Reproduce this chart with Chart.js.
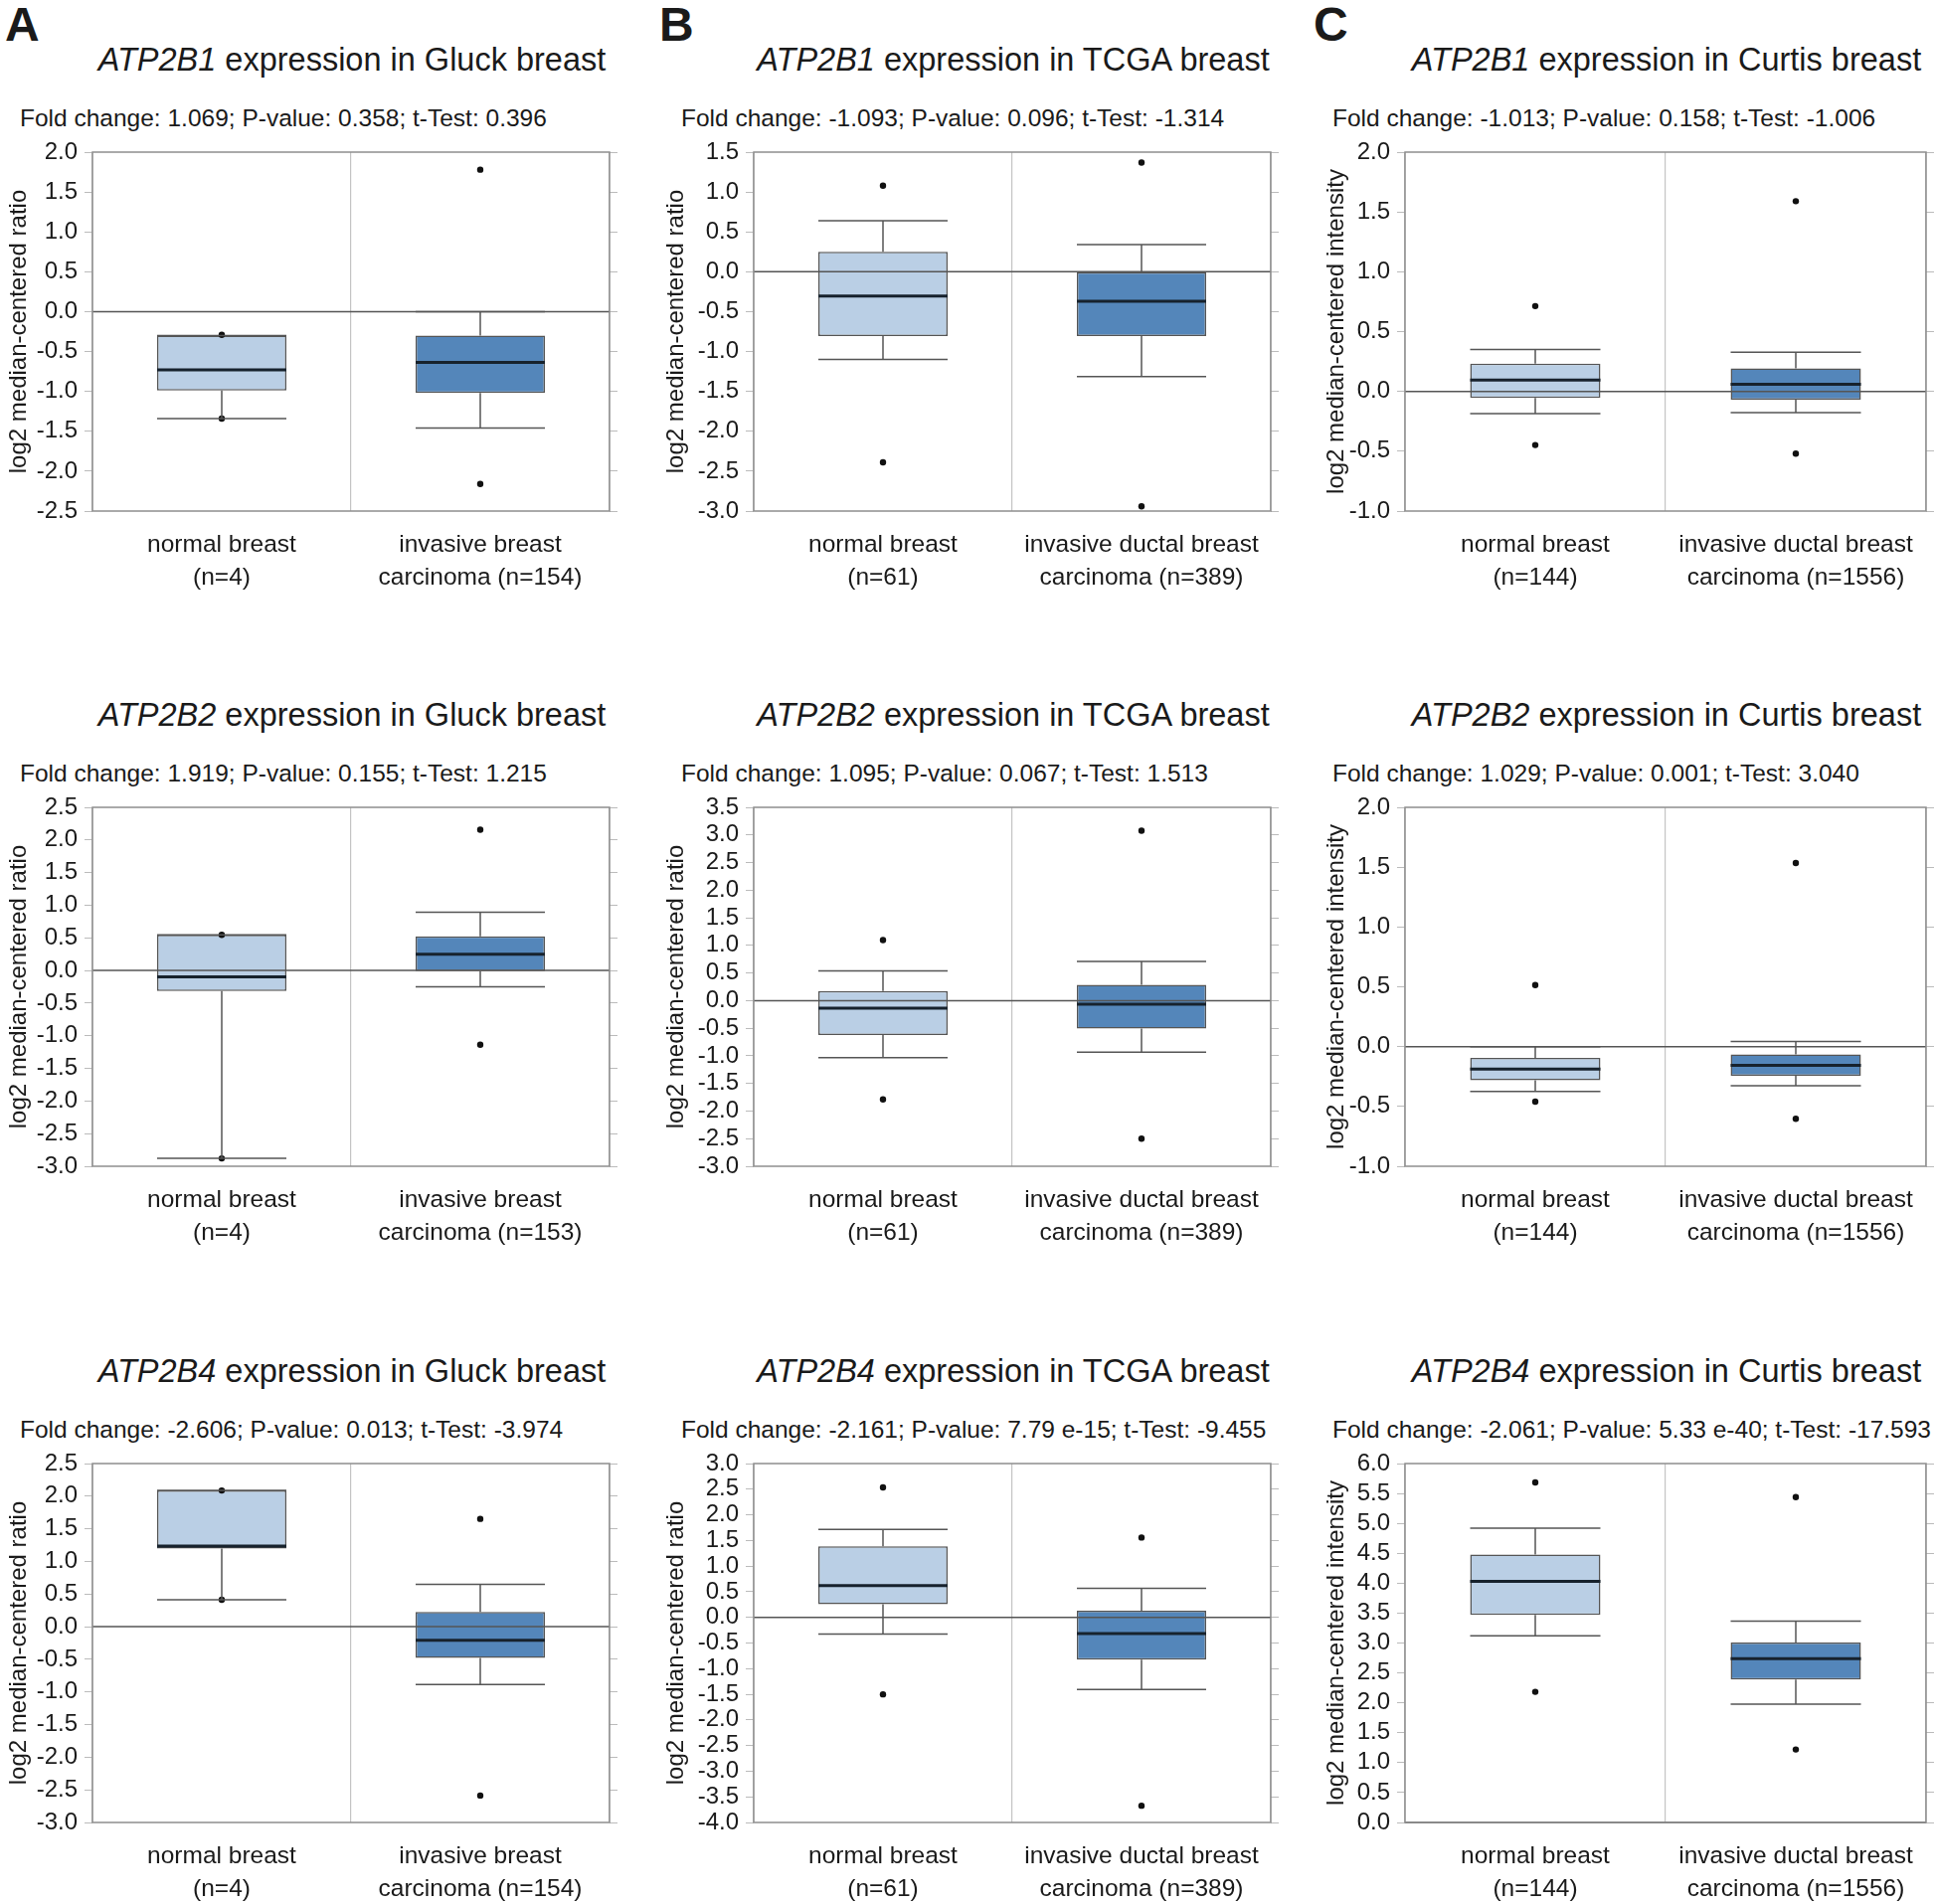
<!DOCTYPE html>
<html>
<head>
<meta charset="utf-8">
<script src="https://cdn.jsdelivr.net/npm/chart.js@4.4.0/dist/chart.umd.min.js"></script>
<style>
body { margin: 0; width: 1946px; height: 1915px; background: #fff; position: relative; overflow: hidden;
       font-family: "Liberation Sans", Arial, sans-serif; color: #1a1a1a; }
canvas { position: absolute; }
.letter { position: absolute; font-weight: bold; font-size: 48px; line-height: 1; }
.title { position: absolute; font-size: 32.5px; line-height: 1; white-space: nowrap; transform: translate(-50%, -50%); }
.fold { position: absolute; font-size: 24.5px; line-height: 1; white-space: nowrap; transform: translateY(-50%); }
</style>
</head>
<body>
<script>
// panels in reading order: A1 B1 C1 / A2 B2 C2 / A3 B3 C3
const genes = ['ATP2B1', 'ATP2B1', 'ATP2B1', 'ATP2B2', 'ATP2B2', 'ATP2B2', 'ATP2B4', 'ATP2B4', 'ATP2B4'];
const studies = ['Gluck', 'TCGA', 'Curtis'];
const foldChange = ['1.069', '-1.093', '-1.013', '1.919', '1.095', '1.029', '-2.606', '-2.161', '-2.061'];
const pValue = ['0.358', '0.096', '0.158', '0.155', '0.067', '0.001', '0.013', '7.79 e-15', '5.33 e-40'];
const tTest = ['0.396', '-1.314', '-1.006', '1.215', '1.513', '3.040', '-3.974', '-9.455', '-17.593'];
const normalN = [4, 61, 144, 4, 61, 144, 4, 61, 144];
const tumorN = [154, 389, 1556, 153, 389, 1556, 154, 389, 1556];
const tumorName = ['invasive breast', 'invasive ductal breast', 'invasive ductal breast'];
const yTitles = ['log2 median-centered ratio', 'log2 median-centered ratio', 'log2 median-centered intensity'];
const yMin = [-2.5, -3.0, -1.0, -3.0, -3.0, -1.0, -3.0, -4.0, 0.0];
const yMax = [2.0, 1.5, 2.0, 2.5, 3.5, 2.0, 2.5, 3.0, 6.0];

// [normal, tumor] for each panel
const maxPoint = [[-0.29, 1.78], [1.08, 1.37], [0.713, 1.59], [0.545, 2.157], [1.096, 3.077], [0.514, 1.535], [2.087, 1.652], [2.536, 1.557], [5.685, 5.44]];
const whiskerHigh = [[-0.30, 0.0], [0.64, 0.34], [0.35, 0.328], [0.545, 0.893], [0.538, 0.71], [0.0, 0.042], [2.087, 0.647], [1.716, 0.565], [4.92, 3.365]];
const q3 = [[-0.30, -0.30], [0.25, 0.0], [0.233, 0.192], [0.545, 0.523], [0.173, 0.288], [-0.095, -0.065], [2.087, 0.228], [1.385, 0.131], [4.48, 3.01]];
const median = [[-0.73, -0.635], [-0.305, -0.37], [0.095, 0.06], [-0.098, 0.25], [-0.135, -0.064], [-0.187, -0.157], [1.234, -0.207], [0.62, -0.317], [4.03, 2.74]];
const q1 = [[-0.99, -1.02], [-0.805, -0.805], [-0.054, -0.069], [-0.316, -0.01], [-0.622, -0.506], [-0.282, -0.244], [1.196, -0.478], [0.255, -0.827], [3.47, 2.39]];
const whiskerLow = [[-1.34, -1.46], [-1.10, -1.315], [-0.186, -0.177], [-2.88, -0.25], [-1.032, -0.936], [-0.374, -0.327], [0.413, -0.886], [-0.324, -1.406], [3.12, 1.976]];
const minPoint = [[-1.34, -2.16], [-2.39, -2.94], [-0.448, -0.52], [-2.88, -1.138], [-1.788, -2.5], [-0.46, -0.603], [0.413, -2.587], [-1.502, -3.673], [2.184, 1.22]];

// layout
const colLeft = [93, 758, 1413];
const colRight = [613, 1278, 1937];
const rowTop = [153, 812, 1472];
const plotH = 361;
const padTop = 24;
const axisW = 92;
const rightW = 9;
const titlePad = [3.6, 0, 8.6];
const letterLeft = [5, 663, 1321];
const FONT = '"Liberation Sans", Arial, sans-serif';

const boxExtras = {
    id: 'boxExtras',
    afterDatasetsDraw(chart, args, opts) {
        const p = opts.panel;
        const { ctx, chartArea: a } = chart;
        const y = chart.scales.y;
        ctx.save();

        // zero reference line
        const y0 = y.getPixelForValue(0);
        ctx.strokeStyle = '#555';
        ctx.lineWidth = 1.5;
        ctx.beginPath();
        ctx.moveTo(a.left, y0);
        ctx.lineTo(a.right, y0);
        ctx.stroke();

        // whiskers, caps and medians
        chart.getDatasetMeta(2).data.forEach((bar, k) => {
            const half = bar.width / 2;
            const x = bar.x;
            const hi = y.getPixelForValue(whiskerHigh[p][k]);
            const lo = y.getPixelForValue(whiskerLow[p][k]);
            const top = y.getPixelForValue(q3[p][k]);
            const bot = y.getPixelForValue(q1[p][k]);
            ctx.strokeStyle = '#555';
            ctx.lineWidth = 1.5;
            ctx.beginPath();
            ctx.moveTo(x, hi); ctx.lineTo(x, top);
            ctx.moveTo(x, bot); ctx.lineTo(x, lo);
            ctx.moveTo(x - half, hi); ctx.lineTo(x + half, hi);
            ctx.moveTo(x - half, lo); ctx.lineTo(x + half, lo);
            ctx.stroke();

            const m = y.getPixelForValue(median[p][k]);
            ctx.strokeStyle = '#17222d';
            ctx.lineWidth = 3;
            ctx.beginPath();
            ctx.moveTo(x - half, m); ctx.lineTo(x + half, m);
            ctx.stroke();
        });

        // plot frame
        ctx.strokeStyle = '#8e8e8e';
        ctx.lineWidth = 1.5;
        ctx.strokeRect(a.left, a.top, a.right - a.left, a.bottom - a.top);
        ctx.restore();
    }
};

function addText(cls, html, left, top) {
    const d = document.createElement('div');
    d.className = cls;
    d.innerHTML = html;
    d.style.left = left + 'px';
    d.style.top = top + 'px';
    document.body.appendChild(d);
}

['A', 'B', 'C'].forEach((l, c) => addText('letter', l, letterLeft[c], 1));

for (let i = 0; i < 9; i++) {
    const col = i % 3;
    const row = Math.floor(i / 3);
    const plotW = colRight[col] - colLeft[col];

    addText('title', '<i>' + genes[i] + '</i> expression in ' + studies[col] + ' breast',
        (colLeft[col] + colRight[col]) / 2 + 1, rowTop[row] - 93);
    addText('fold', 'Fold change: ' + foldChange[i] + '; P-value: ' + pValue[i] + '; t-Test: ' + tTest[i],
        colLeft[col] - 73, rowTop[row] - 34);

    const cv = document.createElement('canvas');
    cv.width = axisW + plotW + rightW;
    cv.height = padTop + plotH + 90;
    cv.style.left = (colLeft[col] - axisW) + 'px';
    cv.style.top = (rowTop[row] - padTop) + 'px';
    document.body.appendChild(cv);

    const tickFmt = v => (Math.abs(v) < 1e-9 ? '0.0' : v.toFixed(1));

    new Chart(cv, {
        type: 'bar',
        data: {
            labels: [
                ['normal breast', '(n=' + normalN[i] + ')'],
                [tumorName[col], 'carcinoma (n=' + tumorN[i] + ')']
            ],
            datasets: [
                {
                    type: 'line', data: maxPoint[i], showLine: false,
                    pointRadius: 3.2, pointBackgroundColor: '#111', pointBorderWidth: 0
                },
                {
                    type: 'line', data: minPoint[i], showLine: false,
                    pointRadius: 3.2, pointBackgroundColor: '#111', pointBorderWidth: 0
                },
                {
                    type: 'bar',
                    data: q1[i].map((v, k) => [v, q3[i][k]]),
                    backgroundColor: ['rgb(186,207,229)', 'rgb(84,134,186)'],
                    borderColor: '#555',
                    borderWidth: 1.5,
                    borderSkipped: false,
                    barPercentage: 0.5,
                    categoryPercentage: 1.0
                }
            ]
        },
        options: {
            responsive: false,
            animation: false,
            events: [],
            layout: { padding: { top: padTop, left: 0, right: 0, bottom: 0 } },
            plugins: {
                legend: { display: false },
                tooltip: { enabled: false },
                boxExtras: { panel: i }
            },
            scales: {
                x: {
                    offset: true,
                    grid: { offset: true, drawTicks: false, color: '#c4c4c4', lineWidth: 1.2 },
                    border: { display: false },
                    ticks: {
                        font: { family: FONT, size: 24.5, lineHeight: 1.35 },
                        color: '#1a1a1a', padding: 17.5,
                        maxRotation: 0, minRotation: 0, autoSkip: false
                    },
                    afterFit(s) { s.height = 90; }
                },
                y: {
                    min: yMin[i], max: yMax[i],
                    ticks: {
                        stepSize: 0.5, padding: 7, color: '#1a1a1a', autoSkip: false,
                        font: { family: FONT, size: 24 }, callback: tickFmt
                    },
                    grid: { drawOnChartArea: false, color: '#bbb', tickLength: 8 },
                    border: { display: false },
                    title: {
                        display: true, text: yTitles[col], color: '#1a1a1a',
                        font: { family: FONT, size: 24, lineHeight: 1.2 },
                        padding: { top: titlePad[col], bottom: 0 }
                    },
                    afterFit(s) { s.width = axisW; }
                },
                y2: {
                    position: 'right',
                    min: yMin[i], max: yMax[i],
                    ticks: { stepSize: 0.5, display: false, autoSkip: false },
                    grid: { drawOnChartArea: false, color: '#bbb', tickLength: 8 },
                    border: { display: false },
                    afterFit(s) { s.width = rightW; }
                }
            }
        },
        plugins: [boxExtras]
    });
}
</script>
</body>
</html>
